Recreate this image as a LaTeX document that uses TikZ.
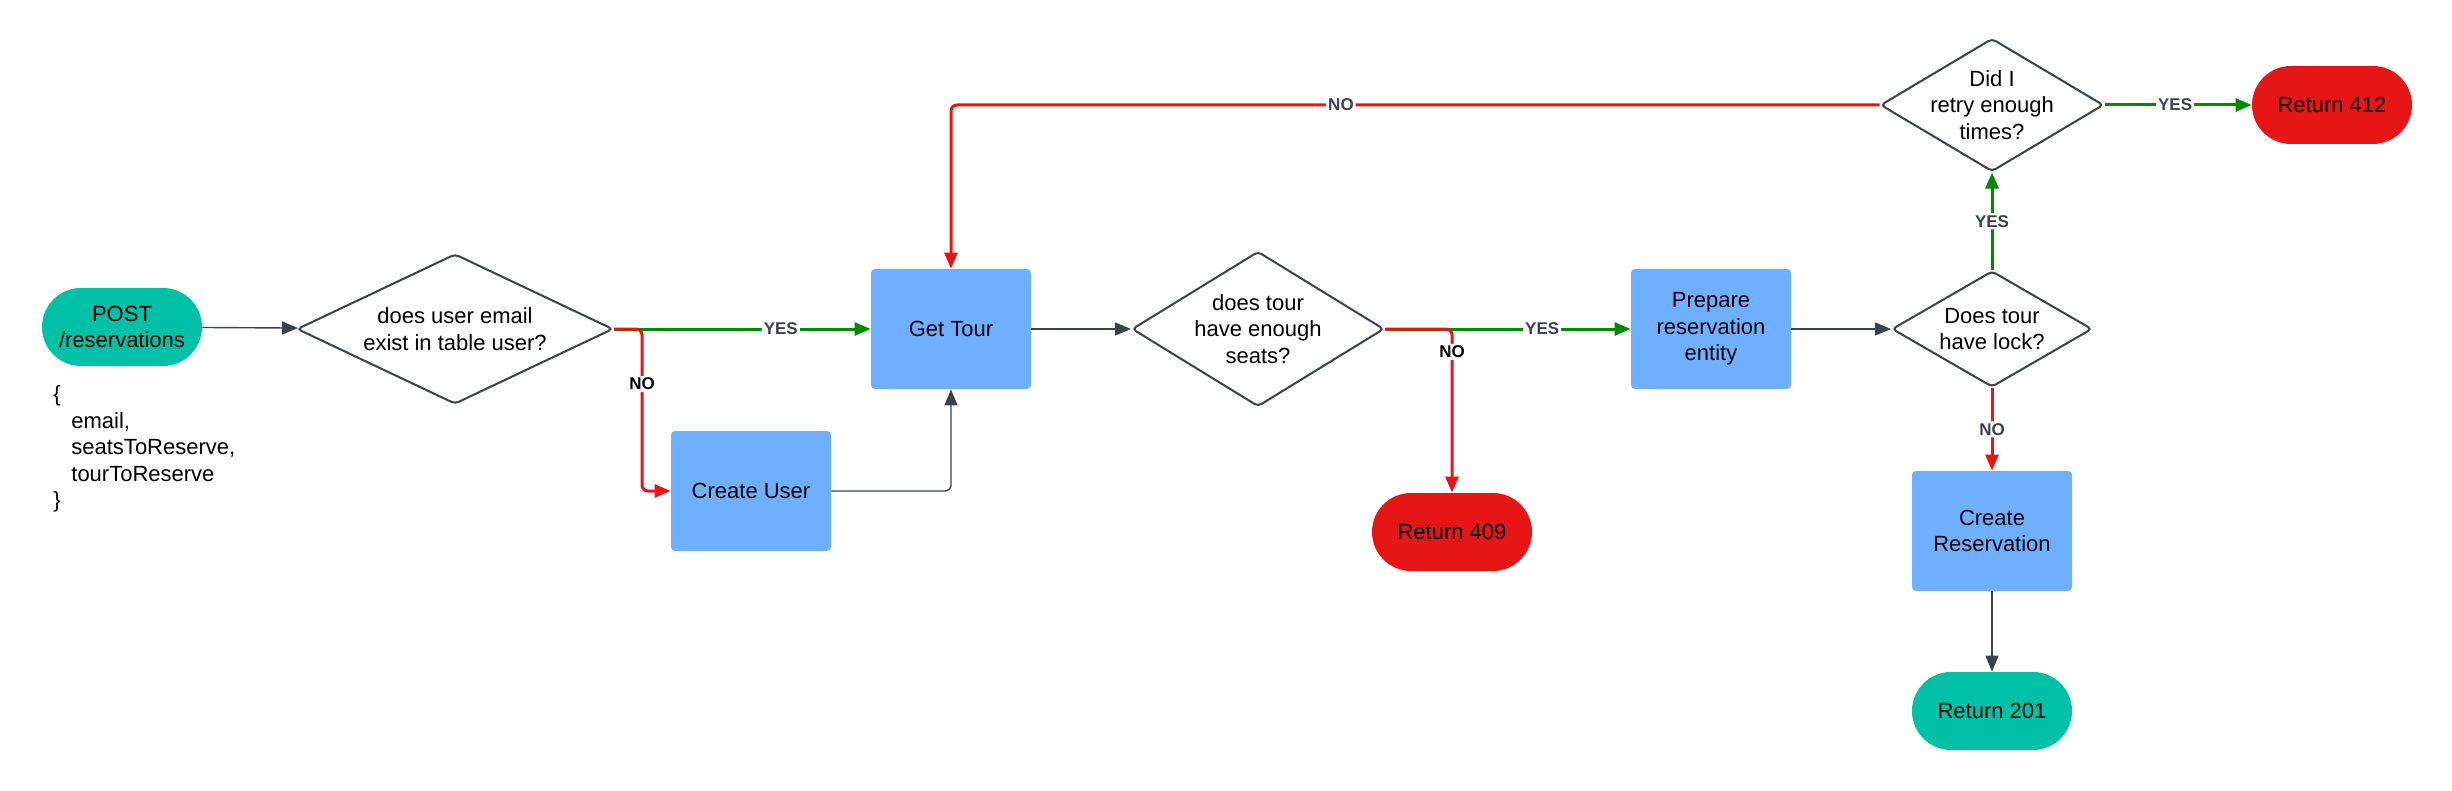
\documentclass[tikz,border=0pt]{standalone}
\usepackage{fontspec}
\setmainfont{Liberation Sans}
\usetikzlibrary{shapes.geometric,arrows.meta}

\definecolor{termteal}{RGB}{0,192,165}
\definecolor{stepblue}{RGB}{110,176,255}
\definecolor{stopred}{RGB}{230,22,22}
\definecolor{yesgreen}{RGB}{0,138,0}
\definecolor{linegray}{RGB}{61,66,74}

\begin{document}
\begin{tikzpicture}[x=0.5pt, y=-0.5pt,
		font=\fontsize{11}{13.3}\selectfont,
		terminal/.style={rectangle, rounded corners=19.5pt, minimum width=80pt, minimum height=39pt, align=center, inner sep=0pt},
		okend/.style={terminal, fill=termteal},
		errend/.style={terminal, fill=stopred},
		process/.style={rectangle, rounded corners=2pt, fill=stepblue, minimum width=80pt, minimum height=60pt, align=center, inner sep=0pt},
		decision/.style={diamond, aspect=1.7, draw=linegray, line width=1pt, rounded corners=2pt, align=center, inner sep=-6pt},
		flow/.style={draw=linegray, line width=0.7pt, rounded corners=3pt, -{Triangle[length=8pt,width=6.5pt]}},
		yes/.style={flow, draw=yesgreen, line width=1.5pt},
		no/.style={flow, draw=stopred, line width=1.5pt},
		lbl/.style={fill=white, inner sep=1pt, text=linegray, font=\fontsize{8.5}{10}\selectfont\bfseries}]
	\fill[white] (0, 0) rectangle (2452, 791);
	\useasboundingbox (0, 0) rectangle (2452, 791);

	\node[okend] (post) at (122, 327) {POST\\/reservations};
	\node[anchor=west, align=left, inner sep=0pt] (body) at (53, 449) {\{\\\hspace*{9pt}email,\\\hspace*{9pt}seatsToReserve,\\\hspace*{9pt}tourToReserve\\\}};
	\node[decision, minimum width=158pt, minimum height=75pt] (userq) at (455, 329) {does user email\\exist in table user?};
	\node[process] (gettour) at (951, 329) {Get Tour};
	\node[process] (createuser) at (751, 491) {Create User};
	\node[decision, minimum width=126pt, minimum height=77.5pt] (seatsq) at (1258, 329) {does tour\\have enough\\seats?};
	\node[errend] (ret409) at (1452, 532) {Return 409};
	\node[process] (prepare) at (1711, 329) {Prepare\\reservation\\entity};
	\node[decision, minimum width=100pt, minimum height=58pt] (lockq) at (1992, 329) {Does tour\\have lock?};
	\node[decision, minimum width=111.5pt, minimum height=66.5pt] (retryq) at (1992, 105) {Did I\\retry enough\\times?};
	\node[errend] (ret412) at (2332, 105) {Return 412};
	\node[process] (createres) at (1992, 531) {Create\\Reservation};
	\node[okend] (ret201) at (1992, 711) {Return 201};

	\draw[flow] (post) -- (userq);
	\draw[yes] (userq) -- (gettour) node[lbl, pos=0.65] {YES};
	\draw[no] (userq.east) -- ++(28, 0) |- (createuser) node[lbl, text=black, pos=0.17] {NO};
	\draw[flow] (createuser) -| (gettour);
	\draw[flow] (gettour) -- (seatsq);
	\draw[yes] (seatsq) -- (prepare) node[lbl, pos=0.64] {YES};
	\draw[no] (seatsq) -| (ret409) node[lbl, text=black, pos=0.57] {NO};
	\draw[flow] (prepare) -- (lockq);
	\draw[yes] (lockq) -- (retryq) node[lbl, pos=0.5] {YES};
	\draw[no] (lockq) -- (createres) node[lbl, pos=0.5] {NO};
	\draw[flow] (createres) -- (ret201);
	\draw[yes] (retryq) -- (ret412) node[lbl, pos=0.48] {YES};
	\draw[no] (retryq) -| (gettour) node[lbl, pos=0.29] {NO};
\end{tikzpicture}
\end{document}
